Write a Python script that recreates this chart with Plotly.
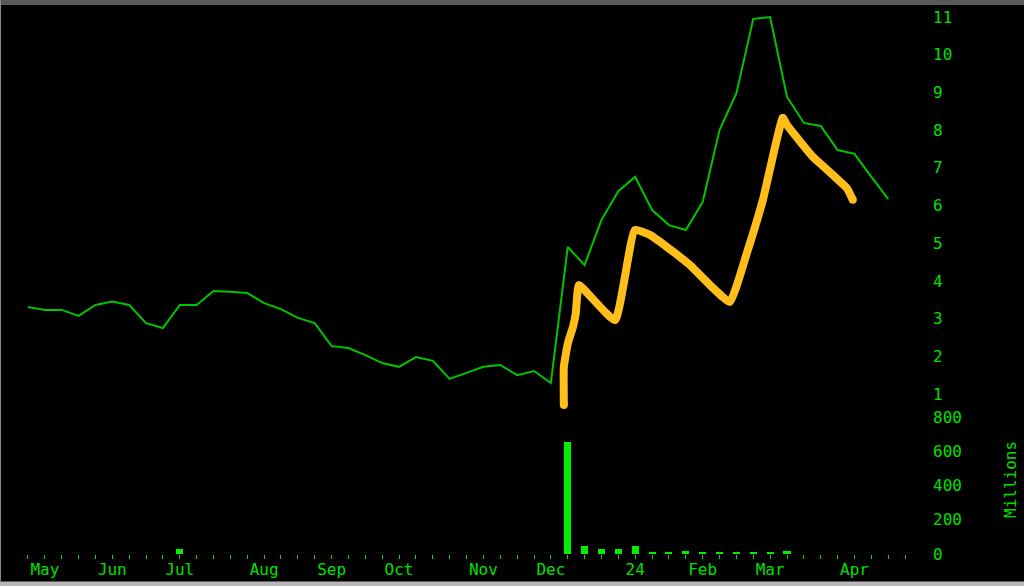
import plotly.graph_objects as go

# ---- data (weekly, week 0 = week of 1 May 2023) ----
week = list(range(52))
price = [3.31, 3.23, 3.23, 3.07, 3.36, 3.45, 3.36, 2.88, 2.75, 3.36,
         3.36, 3.73, 3.71, 3.68, 3.41, 3.25, 3.02, 2.88, 2.27, 2.22,
         2.03, 1.82, 1.72, 1.98, 1.88, 1.40, 1.56, 1.72, 1.77, 1.50,
         1.61, 1.29, 4.90, 4.42, 5.62, 6.38, 6.76, 5.88, 5.48, 5.35,
         6.09, 8.00, 8.98, 10.95, 11.00, 8.88, 8.19, 8.11, 7.47, 7.37,
         6.76, 6.17]
volume = [0, 0, 0, 0, 0, 0, 0, 0, 0, 28,
          0, 0, 0, 0, 0, 0, 0, 0, 0, 0,
          0, 0, 0, 0, 0, 0, 0, 0, 0, 0,
          0, 0, 653, 49, 28, 28, 49, 8, 8, 18,
          8, 8, 8, 8, 8, 18, 0, 0, 0, 0,
          0, 0]
trend_x = [31.77, 31.77, 32.01, 32.31, 32.48, 32.54, 32.66, 34.80, 35.98, 36.87,
           37.88, 39.24, 40.55, 41.61, 42.62, 43.57, 44.75, 44.99, 46.53, 47.72,
           48.55, 48.90]
trend_y = [0.71, 1.72, 2.35, 2.78, 3.15, 3.49, 3.89, 2.96, 5.35, 5.22,
           4.90, 4.42, 3.84, 3.44, 4.74, 6.15, 8.32, 8.14, 7.29, 6.81,
           6.46, 6.15]
week_ticks = list(range(53))
month_labels = ["May", "Jun", "Jul", "Aug", "Sep", "Oct", "Nov", "Dec", "24", "Feb", "Mar", "Apr"]
month_label_week = [1, 5, 9, 14, 18, 22, 27, 31, 36, 40, 44, 49]
price_ticks = [1, 2, 3, 4, 5, 6, 7, 8, 9, 10, 11]
volume_ticks = [0, 200, 400, 600, 800]

GREEN_LINE = "#00C400"
GREEN_BAR = "#00F000"
GREEN_TEXT = "#00E000"
YELLOW = "#FFBE1A"
FONT = dict(family="DejaVu Sans Mono", size=16, color=GREEN_TEXT)

fig = go.Figure()
fig.add_trace(go.Scatter(x=week, y=price, mode="lines",
                         line=dict(color=GREEN_LINE, width=2),
                         xaxis="x", yaxis="y", showlegend=False, hoverinfo="skip"))
fig.add_trace(go.Bar(x=week, y=volume, width=0.42,
                     marker=dict(color=GREEN_BAR, line=dict(width=0)),
                     xaxis="x", yaxis="y2", showlegend=False, hoverinfo="skip"))
fig.add_trace(go.Scatter(x=trend_x, y=trend_y, mode="lines",
                         line=dict(color=YELLOW, width=8, shape="spline", smoothing=0.4),
                         xaxis="x", yaxis="y", showlegend=False, hoverinfo="skip"))
fig.add_trace(go.Scatter(x=[trend_x[0], trend_x[-1], trend_x[16]],
                         y=[trend_y[0], trend_y[-1], trend_y[16]], mode="markers",
                         marker=dict(color=YELLOW, size=8, line=dict(width=0)),
                         xaxis="x", yaxis="y", showlegend=False, hoverinfo="skip"))

W, H = 1024, 586
L, R, T, B = 2, 112, 5, 32
plot_h = H - T - B


def py(px):
    return (H - B - px) / plot_h


def px_(px):
    return (px - L) / (W - L - R)


fig.update_layout(
    width=W, height=H,
    margin=dict(l=L, r=R, t=T, b=B, pad=0),
    paper_bgcolor="black", plot_bgcolor="black",
    bargap=0,
    xaxis=dict(range=[-1.54, 52.41], anchor="y2", showgrid=False, zeroline=False,
               showline=False, tickmode="array", tickvals=month_label_week,
               ticktext=month_labels, ticks="outside", ticklen=4, tickwidth=1,
               tickcolor=GREEN_TEXT, tickfont=FONT, ticklabelstandoff=-3,
               minor=dict(tickmode="array", tickvals=week_ticks, ticks="outside",
                          ticklen=4, tickwidth=1, tickcolor=GREEN_TEXT, showgrid=False)),
    yaxis=dict(domain=[py(410), 1], range=[0.5756, 11.318], side="right", anchor="x",
               showgrid=False, zeroline=False, showline=False, ticks="",
               tickmode="array", tickvals=price_ticks, tickfont=FONT,
               ticklabelstandoff=20),
    yaxis2=dict(domain=[0, py(412)], range=[0, 829], side="right", anchor="x",
                showgrid=False, zeroline=False, showline=False, ticks="",
                tickmode="array", tickvals=volume_ticks, tickfont=FONT,
                ticklabelstandoff=20),
    annotations=[dict(text="Millions", textangle=-90, xref="paper", yref="paper",
                      x=px_(1010), y=py(480), showarrow=False, font=FONT,
                      xanchor="center", yanchor="middle")],
    shapes=[
        dict(type="rect", xref="paper", yref="paper", x0=px_(0), x1=px_(W),
             y0=py(0), y1=py(5), fillcolor="#5a5a5a", line=dict(width=0), layer="above"),
        dict(type="rect", xref="paper", yref="paper", x0=px_(0), x1=px_(1),
             y0=py(0), y1=py(H), fillcolor="#8a8a8a", line=dict(width=0), layer="above"),
        dict(type="rect", xref="paper", yref="paper", x0=px_(0), x1=px_(W),
             y0=py(581), y1=py(582), fillcolor="#606060", line=dict(width=0), layer="above"),
        dict(type="rect", xref="paper", yref="paper", x0=px_(0), x1=px_(W),
             y0=py(582), y1=py(H), fillcolor="#b8b8b8", line=dict(width=0), layer="above"),
    ],
)

fig.write_html("out.html", config={"displayModeBar": False},
               post_script="document.body.style.margin='0';document.body.style.overflow='hidden';")
